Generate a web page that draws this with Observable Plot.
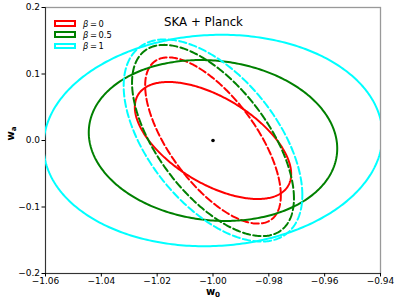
<!DOCTYPE html>
<html><head><meta charset="utf-8">
<script src="https://cdn.jsdelivr.net/npm/d3@7"></script>
<script src="https://cdn.jsdelivr.net/npm/@observablehq/plot@0.6"></script>
<style>
body{margin:0;background:#fff;font-family:"DejaVu Sans",sans-serif;}
#wrap{position:relative;width:399px;height:305px;}
#legend{position:absolute;left:54px;top:18px;font-size:8.3px;color:#000;}
#legend .row{display:flex;align-items:center;height:11.2px;}
#legend .box{box-sizing:border-box;width:21.5px;height:6.8px;border:2px solid;background:#fff;margin-right:7.5px;}
</style></head><body>
<div id="wrap"><div id="legend"></div></div>
<script>
// ---- data ----
const title = "SKA + Planck";
const betaValues = ["0", "0.5", "1"];
const colors = ["#ff0000", "#008000", "#00ffff"];
const fiducialW0 = [-1.0];
const fiducialWa = [0.0];
// solid contours: half-extent in w0, half-extent in wa, correlation
const solidSigW0 = [0.0280, 0.0445, 0.0607];
const solidSigWa = [0.088, 0.121, 0.159];
const solidRho   = [-0.57, -0.10, 0.05];
// dashed contours
const dashedSigW0 = [0.0243, 0.0290, 0.0320];
const dashedSigWa = [0.125, 0.1438, 0.152];
const dashedRho   = [-0.66, -0.605, -0.54];
const xTicks = [-1.06, -1.04, -1.02, -1.00, -0.98, -0.96, -0.94];
const yTicks = [-0.2, -0.1, 0.0, 0.1, 0.2];
const xDomain = [-1.06, -0.94];
const yDomain = [-0.2, 0.2];

function ellipse(cx, cy, sx, sy, rho, n = 360) {
  const r = Math.sqrt(1 - rho * rho);
  return d3.range(n + 1).map(i => {
    const t = 2 * Math.PI * i / n;
    return {x: cx + sx * Math.cos(t), y: cy + sy * (rho * Math.cos(t) + r * Math.sin(t))};
  });
}

const lineMarks = [];
for (let k = 0; k < 3; k++) {
  lineMarks.push(Plot.line(ellipse(fiducialW0[0], fiducialWa[0], solidSigW0[k], solidSigWa[k], solidRho[k]),
    {x: "x", y: "y", stroke: colors[k], strokeWidth: 2, clip: true}));
  lineMarks.push(Plot.line(ellipse(fiducialW0[0], fiducialWa[0], dashedSigW0[k], dashedSigWa[k], dashedRho[k]),
    {x: "x", y: "y", stroke: colors[k], strokeWidth: 2, strokeDasharray: "7.4,3.2", clip: true}));
}

const chart = Plot.plot({
  width: 399, height: 305,
  marginLeft: 45, marginRight: 19, marginTop: 7, marginBottom: 32,
  x: {domain: xDomain},
  y: {domain: yDomain},
  style: {fontFamily: "DejaVu Sans", fontSize: "9px", color: "#000", background: "#fff"},
  marks: [
    Plot.frame({stroke: "#999", strokeWidth: 1.3}),
    Plot.ruleX([xDomain[0]], {stroke: "#333"}),
    Plot.ruleY([yDomain[0]], {stroke: "#333"}),
    Plot.axisX({ticks: xTicks, tickFormat: d3.format(".2f"), tickSize: 3.5, tickPadding: 1, label: null}),
    Plot.axisY({ticks: yTicks, tickFormat: d3.format(".1f"), tickSize: 3.5, tickPadding: 2, label: null}),
    ...lineMarks,
    Plot.dot(fiducialW0.map((w, i) => ({x: w, y: fiducialWa[i]})), {x: "x", y: "y", r: 1.8, fill: "#000", stroke: "none"}),
    Plot.text([title], {frameAnchor: "top", dx: -9.5, dy: 10, fontSize: 11.8, fill: "#000"}),
    Plot.text(["LBLX"], {frameAnchor: "bottom", dy: 21.5, fontSize: 10, fontWeight: "bold", fill: "#000"}),
    Plot.text(["LBLY"], {frameAnchor: "left", dx: -35, rotate: -90, fontSize: 10, fontWeight: "bold", fill: "#000"})
  ]
});

d3.select(chart).selectAll("text").each(function () {
  const t = d3.select(this);
  const s = t.text();
  if (s === "LBLX" || s === "LBLY") {
    t.text("w");
    t.append("tspan").attr("dy", "0.3em").attr("font-size", "0.72em").text(s === "LBLX" ? "0" : "a");
  }
});

document.getElementById("wrap").prepend(chart);

const legend = d3.select("#legend");
betaValues.forEach((b, i) => {
  const row = legend.append("div").attr("class", "row");
  row.append("div").attr("class", "box").style("border-color", colors[i]);
  const lab = row.append("span");
  lab.append("i").text("β");
  lab.append("span").text("\u2009=\u2009" + b);
});
</script>
</body></html>
